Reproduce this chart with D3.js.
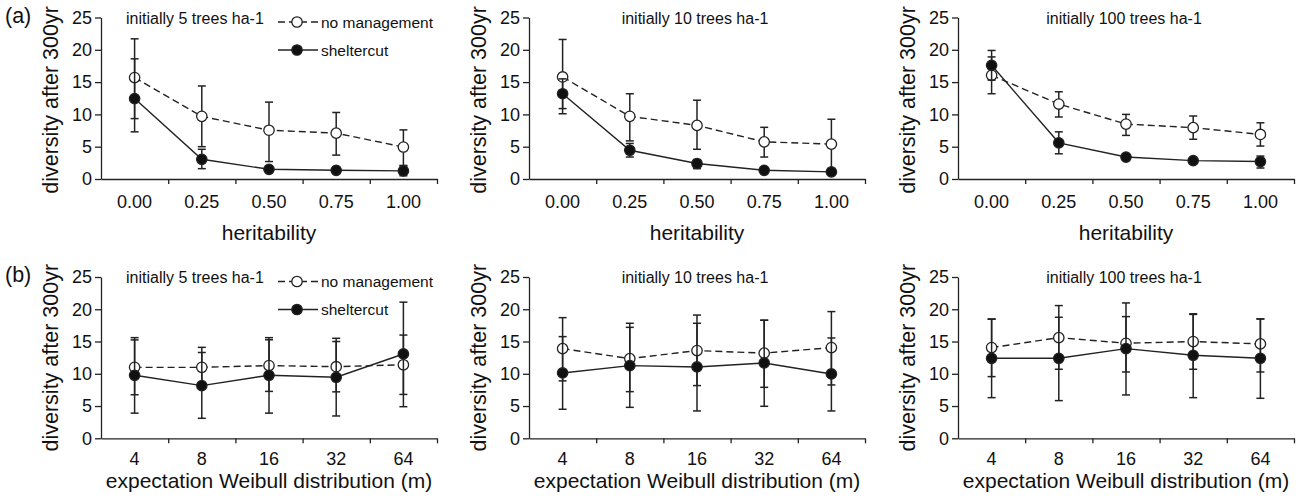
<!DOCTYPE html>
<html>
<head>
<meta charset="utf-8">
<script src="https://cdn.jsdelivr.net/npm/d3@7"></script>
<style>
  body { margin: 0; background: #fff; }
  svg { display: block; font-family: "Liberation Sans", Arial, sans-serif; }
</style>
</head>
<body>
<svg id="chart" width="1296" height="500"></svg>
<script>
// categories
const heritability = ["0.00", "0.25", "0.50", "0.75", "1.00"];
const weibull = ["4", "8", "16", "32", "64"];
const densities = ["initially 5 trees ha-1", "initially 10 trees ha-1", "initially 100 trees ha-1"];
const yTicks = [0, 5, 10, 15, 20, 25];

// [mean, lower, upper]
const a5None = [[15.7, 9.35, 21.7], [9.7, 5.0, 14.4], [7.55, 2.7, 11.9], [7.1, 3.7, 10.3], [4.95, 2.1, 7.6]];
const a5Shelter = [[12.45, 7.3, 18.6], [3.05, 1.6, 4.6], [1.5, 1.1, 1.9], [1.35, 1.0, 1.7], [1.25, 0.5, 2.0]];
const a10None = [[15.8, 10.1, 21.6], [9.7, 5.9, 13.2], [8.3, 4.6, 12.2], [5.75, 3.4, 8.0], [5.4, 1.6, 9.25]];
const a10Shelter = [[13.2, 10.9, 15.5], [4.45, 3.4, 5.5], [2.4, 1.6, 3.0], [1.35, 1.0, 1.7], [1.1, 0.8, 1.4]];
const a100None = [[16.05, 13.2, 18.9], [11.6, 9.6, 13.5], [8.5, 6.75, 10.0], [7.95, 6.15, 9.75], [6.9, 5.1, 8.7]];
const a100Shelter = [[17.6, 15.3, 19.9], [5.6, 3.9, 7.3], [3.4, 3.0, 3.8], [2.85, 2.55, 3.15], [2.7, 1.7, 3.55]];

const b5None = [[11.0, 6.75, 15.25], [11.0, 7.9, 14.1], [11.27, 7.27, 15.27], [11.1, 7.2, 15.0], [11.4, 6.8, 16.0]];
const b5Shelter = [[9.77, 3.9, 15.6], [8.17, 3.1, 13.3], [9.77, 3.9, 15.6], [9.46, 3.46, 15.5], [13.07, 4.9, 21.1]];
const b10None = [[13.9, 8.9, 18.7], [12.35, 7.23, 17.2], [13.6, 8.17, 19.1], [13.2, 7.9, 18.3], [14.06, 8.27, 19.64]];
const b10Shelter = [[10.13, 4.5, 15.76], [11.27, 4.8, 17.83], [11.06, 4.24, 17.83], [11.68, 4.96, 18.3], [9.97, 4.24, 15.55]];
const b100None = [[14.06, 9.56, 18.45], [15.6, 10.7, 20.57], [14.73, 10.28, 18.86], [14.99, 10.7, 19.2], [14.63, 10.28, 18.5]];
const b100Shelter = [[12.4, 6.3, 18.5], [12.4, 5.84, 18.76], [13.9, 6.72, 20.98], [12.87, 6.3, 19.3], [12.4, 6.2, 18.5]];

const ink = "#222";
const svg = d3.select("#chart");

const panelLeft = [101, 529, 958];
const plotW = 336;
const rows = [
  { tag: "(a)", top: 17.5, bottom: 179, cats: heritability, xTitle: "heritability", xTitleDy: 61, tickPad: 16, yTitleY: 100,
    series: [[a5None, a5Shelter], [a10None, a10Shelter], [a100None, a100Shelter]] },
  { tag: "(b)", top: 277, bottom: 438.3, cats: weibull, xTitle: "expectation Weibull distribution (m)", xTitleDy: 49.5, tickPad: 13.5, yTitleY: 357.7,
    series: [[b5None, b5Shelter], [b10None, b10Shelter], [b100None, b100Shelter]] }
];

rows.forEach((row) => {
  const y = d3.scaleLinear().domain([0, 25]).range([row.bottom, row.top]);

  svg.append("text")
    .attr("x", 5).attr("y", row.top + 5)
    .attr("font-size", 21.5).attr("fill", "#111")
    .text(row.tag);

  panelLeft.forEach((x0, pi) => {
    const g = svg.append("g");
    const x = d3.scaleBand().domain(row.cats).range([x0, x0 + plotW]);
    const cx = (i) => x(row.cats[i]) + x.bandwidth() / 2;
    const xt = d3.scaleLinear().domain([0, row.cats.length]).range([x0, x0 + plotW]);

    // y axis
    const ya = g.append("g").attr("transform", `translate(${x0},0)`)
      .call(d3.axisLeft(y).tickValues(yTicks).tickSize(6).tickSizeOuter(0).tickPadding(3));
    ya.selectAll("text").attr("font-size", 18).attr("fill", "#111");

    // x axis: ticks between categories
    g.append("g").attr("transform", `translate(0,${row.bottom})`)
      .call(d3.axisBottom(xt).tickValues(d3.range(1, row.cats.length + 1)).tickFormat("").tickSize(5).tickSizeOuter(0));
    const xl = g.append("g").attr("transform", `translate(0,${row.bottom})`)
      .call(d3.axisBottom(x).tickSize(0).tickPadding(row.tickPad));
    xl.select(".domain").remove();
    xl.selectAll("text").attr("font-size", 18).attr("fill", "#111");
    g.selectAll(".domain, .tick line").attr("stroke", ink).attr("stroke-width", 1.3);

    // titles
    g.append("text")
      .attr("transform", `translate(${x0 - 43.5},${row.yTitleY}) rotate(-90)`)
      .attr("text-anchor", "middle").attr("font-size", 21.5).attr("fill", "#111")
      .text("diversity after 300yr");
    g.append("text")
      .attr("x", x0 + plotW / 2).attr("y", row.bottom + row.xTitleDy)
      .attr("text-anchor", "middle").attr("font-size", 21).attr("fill", "#111")
      .text(row.xTitle);
    g.append("text")
      .attr("x", pi === 0 ? x0 + 25 : x0 + plotW / 2 - 2)
      .attr("y", row.top + 6)
      .attr("text-anchor", pi === 0 ? "start" : "middle")
      .attr("font-size", 16).attr("fill", "#111")
      .text(densities[pi]);

    const [none, shelter] = row.series[pi];
    const line = d3.line().x((d, i) => cx(i)).y((d) => y(d[0]));

    [[none, true], [shelter, false]].forEach(([data, open]) => {
      const s = g.append("g");
      const eb = s.selectAll(".eb").data(data).enter().append("g");
      eb.append("line").attr("x1", (d, i) => cx(i)).attr("x2", (d, i) => cx(i))
        .attr("y1", (d) => y(d[1])).attr("y2", (d) => y(d[2]));
      eb.append("line").attr("x1", (d, i) => cx(i) - 4).attr("x2", (d, i) => cx(i) + 4)
        .attr("y1", (d) => y(d[2])).attr("y2", (d) => y(d[2]));
      eb.append("line").attr("x1", (d, i) => cx(i) - 4).attr("x2", (d, i) => cx(i) + 4)
        .attr("y1", (d) => y(d[1])).attr("y2", (d) => y(d[1]));
      eb.selectAll("line").attr("stroke", ink).attr("stroke-width", 1.5);

      s.append("path").datum(data).attr("d", line)
        .attr("fill", "none").attr("stroke", ink).attr("stroke-width", 1.4)
        .attr("stroke-dasharray", open ? "7,4" : null);

      s.selectAll("circle").data(data).enter().append("circle")
        .attr("cx", (d, i) => cx(i)).attr("cy", (d) => y(d[0])).attr("r", 5.2)
        .attr("fill", open ? "#fff" : "#111").attr("stroke", ink).attr("stroke-width", 1.3);
    });

    // legend in first panel of each row
    if (pi === 0) {
      const lg = g.append("g");
      [["no management", true, 4.5, 10], ["sheltercut", false, 32.5, 38]].forEach(([label, open, cy, ty]) => {
        lg.append("line").attr("x1", 278).attr("x2", 318)
          .attr("y1", row.top + cy).attr("y2", row.top + cy)
          .attr("stroke", ink).attr("stroke-width", 1.4)
          .attr("stroke-dasharray", open ? "7,4" : null);
        lg.append("circle").attr("cx", 297).attr("cy", row.top + cy).attr("r", 5.2)
          .attr("fill", open ? "#fff" : "#111").attr("stroke", ink).attr("stroke-width", 1.3);
        lg.append("text").attr("x", 321).attr("y", row.top + ty)
          .attr("font-size", 15.5).attr("fill", "#111").text(label);
      });
    }
  });
});
</script>
</body>
</html>
